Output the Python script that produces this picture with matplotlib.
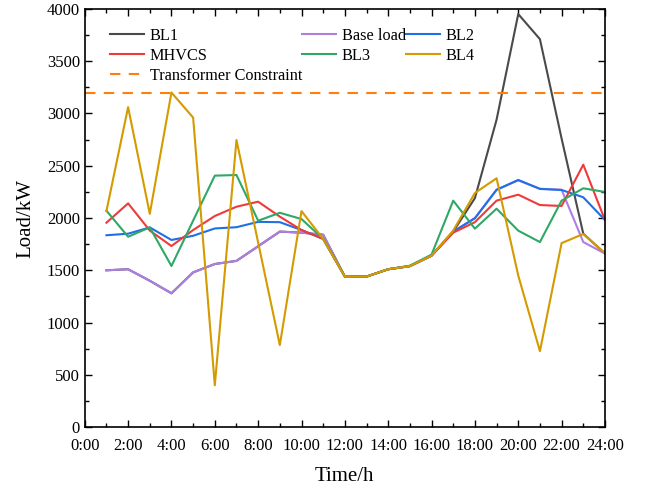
import numpy as np
import matplotlib
matplotlib.use("Agg")
import matplotlib.pyplot as plt
from matplotlib.ticker import MultipleLocator

plt.rcParams['font.family'] = ['Liberation Serif', 'DejaVu Serif']

hours = list(range(1, 25))

base_load = [1500, 1510, 1400, 1280, 1480, 1560, 1590, 1730, 1870, 1860, 1840, 1440,
             1440, 1510, 1540, 1640, 1870, 2000, 2270, 2360, 2280, 2270, 1770, 1660]
bl1 = [1500, 1510, 1400, 1280, 1480, 1560, 1590, 1730, 1870, 1860, 1840, 1440,
       1440, 1510, 1540, 1640, 1870, 2190, 2940, 3950, 3710, 2760, 1850, 1660]
bl2 = [1835, 1850, 1910, 1790, 1830, 1900, 1912, 1963, 1960, 1885, 1800, 1440,
       1440, 1510, 1540, 1640, 1870, 1997, 2270, 2364, 2278, 2268, 2198, 1981]
mhvcs = [1955, 2140, 1880, 1732, 1885, 2019, 2108, 2156, 2013, 1885, 1800, 1440,
         1440, 1510, 1540, 1640, 1860, 1960, 2166, 2223, 2124, 2115, 2510, 1981]
bl3 = [2070, 1821, 1910, 1541, 1975, 2405, 2411, 1974, 2050, 1990, 1800, 1440,
       1440, 1510, 1544, 1650, 2166, 1898, 2089, 1879, 1770, 2166, 2284, 2249]
bl4 = [2066, 3060, 2040, 3200, 2960, 400, 2746, 1765, 785, 2066, 1800, 1440,
       1440, 1510, 1540, 1640, 1880, 2239, 2380, 1450, 727, 1760, 1847, 1665]
transformer_limit = 3200

time_ticks = list(range(0, 25, 2))
time_labels = ["{}:00".format(h) for h in time_ticks]

fig = plt.figure(figsize=(6.47, 4.91), dpi=100)
ax = fig.add_axes([0.131, 0.130, 0.804, 0.852])

lw = 1.5
l_bl1, = ax.plot(hours, bl1, color='#4a4a4a', lw=lw, label='BL1')
l_base, = ax.plot(hours, base_load, color='#ae7ee3', lw=lw, label='Base load')
l_bl2, = ax.plot(hours, bl2, color='#1f6fe5', lw=lw, label='BL2')
l_mh, = ax.plot(hours, mhvcs, color='#f03a3a', lw=lw, label='MHVCS')
l_bl3, = ax.plot(hours, bl3, color='#2fa866', lw=lw, label='BL3')
l_bl4, = ax.plot(hours, bl4, color='#d49a00', lw=lw, label='BL4')
l_tr = ax.axhline(transformer_limit, color='#ff7f0e', lw=1.5, ls=(0, (5, 4)),
                  label='Transformer Constraint')

ax.set_xlim(0, 24)
ax.set_ylim(0, 4000)
ax.set_xticks(time_ticks)
ax.set_xticklabels(time_labels)
ax.xaxis.set_minor_locator(MultipleLocator(1))
ax.yaxis.set_major_locator(MultipleLocator(500))
ax.yaxis.set_minor_locator(MultipleLocator(250))
ax.tick_params(which='both', direction='in', top=True, right=True, labelsize=12)
ax.tick_params(which='major', length=5, width=1)
ax.tick_params(which='minor', length=3, width=1)
ax.tick_params(axis='x', which='major', pad=8)
for s in ax.spines.values():
    s.set_linewidth(1.2)

ax.set_xlabel('Time/h', fontsize=15, labelpad=9)
ax.set_ylabel('Load/kW', fontsize=15, labelpad=8)

handles = [l_bl1, l_mh, l_tr, l_base, l_bl3, l_bl2, l_bl4]
ax.legend(handles=handles, labels=[h.get_label() for h in handles], ncol=3,
          loc='upper left', frameon=False, fontsize=11.7, handlelength=2.1,
          columnspacing=0.0, handletextpad=0.35, labelspacing=0.25,
          bbox_to_anchor=(0.02, 0.99))

fig.savefig('out.png', dpi=100)
